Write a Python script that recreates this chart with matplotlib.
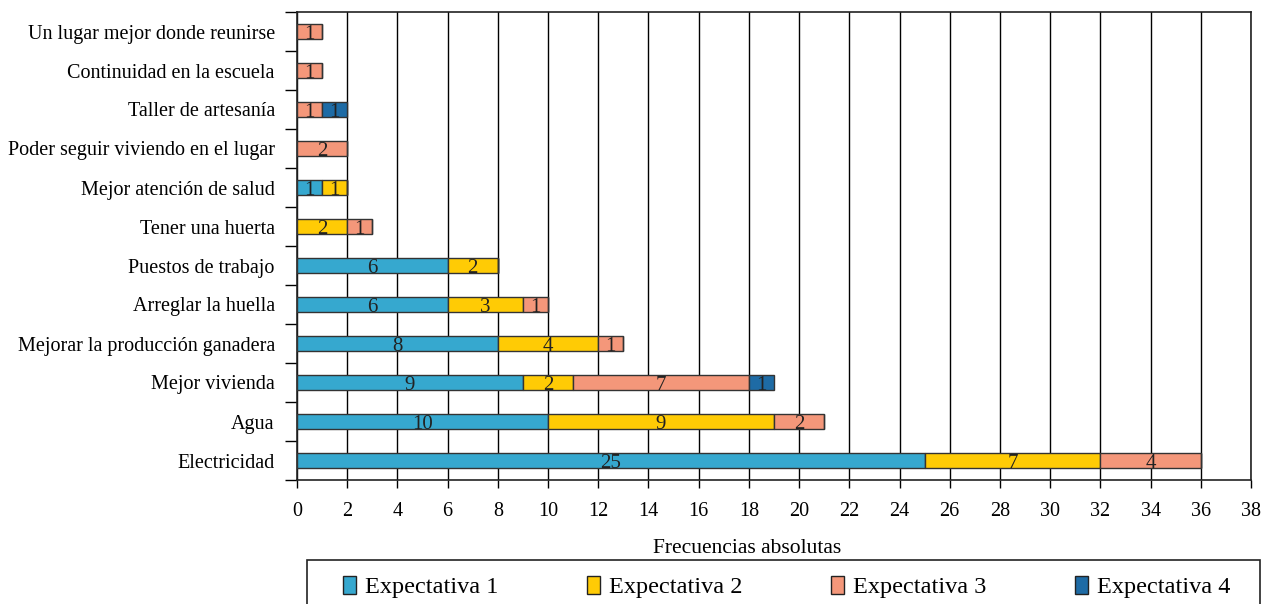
import numpy as np
import matplotlib
matplotlib.use('Agg')
from matplotlib import pyplot as plt
from matplotlib.patches import Patch, Rectangle

# categorías (de abajo hacia arriba)
categorias = ['Electricidad', 'Agua', 'Mejor vivienda', 'Mejorar la producción ganadera',
              'Arreglar la huella', 'Puestos de trabajo', 'Tener una huerta',
              'Mejor atención de salud', 'Poder seguir viviendo en el lugar',
              'Taller de artesanía', 'Continuidad en la escuela', 'Un lugar mejor donde reunirse']
expectativa_1 = [25, 10, 9, 8, 6, 6, 0, 1, 0, 0, 0, 0]
expectativa_2 = [7, 9, 2, 4, 3, 2, 2, 1, 0, 0, 0, 0]
expectativa_3 = [4, 2, 7, 1, 1, 0, 1, 0, 2, 1, 1, 1]
expectativa_4 = [0, 0, 1, 0, 0, 0, 0, 0, 0, 1, 0, 0]
series = ['Expectativa 1', 'Expectativa 2', 'Expectativa 3', 'Expectativa 4']
colores = ['#36A8CF', '#FFCB05', '#F4977A', '#1E6BA5']
xticks = np.arange(0, 39, 2)

plt.rcParams['font.family'] = ['Liberation Serif', 'DejaVu Serif']

W, H = 1271, 604
fig = plt.figure(figsize=(W/100, H/100), dpi=100)
ax = fig.add_axes([297/W, 1-480/H, (1251-297)/W, (480-12)/H])

y = np.arange(len(categorias))
left = np.zeros(len(categorias))
for vals, color in zip((expectativa_1, expectativa_2, expectativa_3, expectativa_4), colores):
    vals = np.array(vals, dtype=float)
    ax.barh(y, vals, left=left, height=0.4, color=color, edgecolor='#333333',
            linewidth=1.0, zorder=3)
    for yi, v, l in zip(y, vals, left):
        if v > 0:
            ax.text(l + v/2, yi - 0.07, f'{int(v)}', ha='center', va='center', fontsize=15,
                    color='#222222', zorder=4)
    left += vals

ax.set_xlim(0, 38)
ax.set_ylim(-0.5, len(categorias) - 0.5)
ax.set_xticks(xticks)
ax.tick_params(axis='x', direction='out', length=6, width=1, labelsize=14.5, pad=10)
ax.set_yticks(y)
ax.set_yticklabels(categorias, fontsize=14.5)
ax.tick_params(axis='y', which='major', length=0, pad=16)
ax.set_yticks(np.arange(-0.5, len(categorias), 1), minor=True)
ax.tick_params(axis='y', which='minor', direction='out', length=9, width=1)
ax.grid(axis='x', color='black', linewidth=1, zorder=0)
for s in ax.spines.values():
    s.set_linewidth(1.2)
    s.set_color('#222222')
ax.set_xlabel('Frecuencias absolutas', fontsize=15.5, labelpad=13)
ax.xaxis.label.set_x((747-297)/(1251-297))

# marco de la leyenda
fig.add_artist(Rectangle((307/W, -0.05), (1260-307)/W, 0.05 + (604-560)/H,
                         transform=fig.transFigure, fill=False, edgecolor='#222222',
                         linewidth=1.2))
handles = [Patch(facecolor=c, edgecolor='#222222', label=s) for c, s in zip(colores, series)]
fig.legend(handles=handles, loc='center left', ncol=4, mode='expand',
           bbox_to_anchor=(343/W, 1-587/H, (1230-343)/W, 0.0),
           fontsize=17.5, frameon=False,
           handlelength=0.55, handleheight=0.75, handletextpad=0.35,
           borderpad=0, borderaxespad=0)

fig.savefig('out.png', dpi=100)
